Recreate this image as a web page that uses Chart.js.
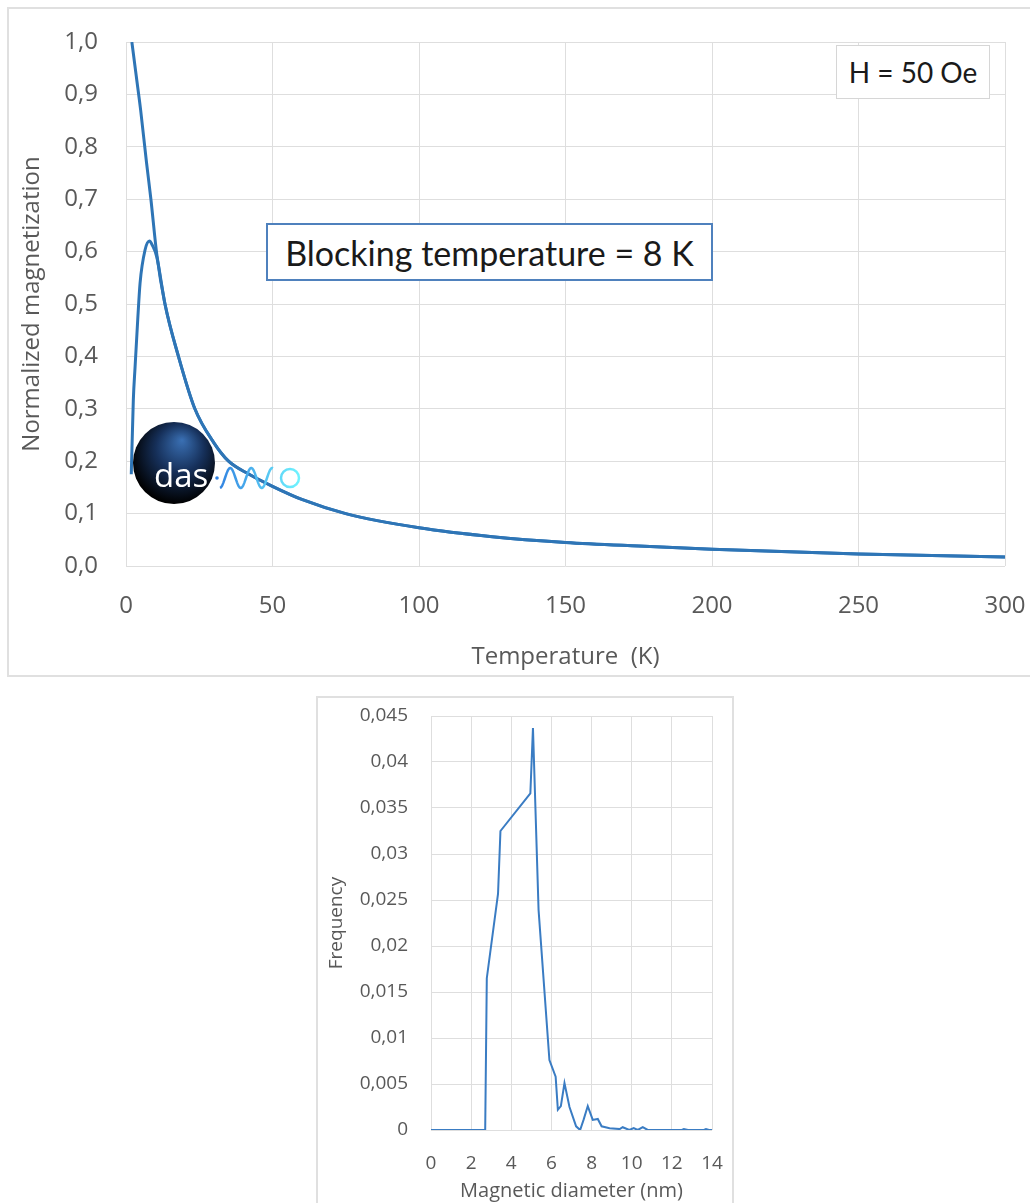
<!DOCTYPE html>
<html>
<head>
<meta charset="utf-8">
<script src="https://cdn.jsdelivr.net/npm/chart.js@4.4.1/dist/chart.umd.min.js"></script>
<style>
  html, body { margin: 0; padding: 0; background: #fff; }
  body { width: 1030px; height: 1203px; position: relative; overflow: hidden; font-family: 'Open Sans', sans-serif; }
  .frame { position: absolute; border: 2px solid #e0e0e0; box-sizing: border-box; }
  canvas { position: absolute; }
  .note { position: absolute; box-sizing: border-box; background: #fff; font-family: Lato, sans-serif; color: #1a1a1a;
          display: flex; align-items: center; justify-content: center; white-space: nowrap; }
</style>
</head>
<body>
<div class="frame" style="left:7px;top:7px;width:1040px;height:670px"></div>
<div class="frame" style="left:316px;top:696px;width:418px;height:520px"></div>
<canvas id="magChart" width="1022" height="668" style="left:8px;top:8px"></canvas>
<canvas id="sizeChart" width="416" height="506" style="left:317px;top:697px"></canvas>
<div class="note" style="left:836px;top:45px;width:154px;height:54px;border:1.5px solid #d6d6d6;font-size:28px">H = 50 Oe</div>
<div class="note" style="left:266px;top:223px;width:447px;height:58px;border:2px solid #4f81bd;font-size:34px">Blocking temperature = 8 K</div>

<script>
// Magnetization vs temperature (ZFC / FC)
const fcLowTemp = [2, 3.5, 5, 7, 8.5, 10.5];
const fcLowMag = [1.0, 0.935, 0.87, 0.77, 0.70, 0.595];
const zfcLowTemp = [1.8, 2.5, 3.1, 4.0, 4.8, 6.5, 8, 9, 10.5];
const zfcLowMag = [0.175, 0.317, 0.38, 0.47, 0.54, 0.603, 0.62, 0.612, 0.59];
const tailTemp = [13.3, 17.9, 23.5, 30, 35, 42, 50, 60, 75, 100, 125, 150, 175, 200, 250, 300];
const tailMag = [0.5, 0.4, 0.3, 0.235, 0.2, 0.175, 0.152, 0.127, 0.1, 0.073, 0.056, 0.045, 0.038, 0.032, 0.023, 0.017];
const tempTicks = [0, 50, 100, 150, 200, 250, 300];
const magTicks = [0, 0.1, 0.2, 0.3, 0.4, 0.5, 0.6, 0.7, 0.8, 0.9, 1.0];

// Size distribution
const diamNm = [0, 1, 2, 2.7, 2.78, 3.34, 3.46, 4.95, 5.08, 5.36, 5.9, 6.21, 6.32, 6.47, 6.65, 6.9, 7.23, 7.43, 7.6, 7.81,
                8.06, 8.31, 8.5, 8.9, 9.4, 9.55, 9.88, 10.1, 10.3, 10.55, 10.8, 12.5, 12.6, 12.8, 13.6, 13.7, 13.85, 14];
const freq = [0, 0, 0, 0, 0.0165, 0.0257, 0.0325, 0.0366, 0.0437, 0.0239, 0.0076, 0.0058, 0.0022, 0.0026, 0.0051, 0.0025,
              0.0004, 0, 0.0011, 0.0026, 0.0011, 0.0012, 0.0004, 0.0002, 0.0001, 0.0003, 0, 0.0002, 0, 0.0003, 0, 0, 0.0001,
              0, 0, 0.0001, 0, 0];
const diamTicks = [0, 2, 4, 6, 8, 10, 12, 14];
const freqTicks = [0, 0.005, 0.01, 0.015, 0.02, 0.025, 0.03, 0.035, 0.04, 0.045];

const toPoints = (xs, ys) => xs.map((x, i) => ({ x: x, y: ys[i] }));
const comma = v => String(parseFloat(v.toFixed(3))).replace('.', ',');

const gridColor = '#dedede';
const textColor = '#595959';

// fixed axis size, and no extra label padding so the plot area sits where layout.padding says
function fixSize(prop, size) {
    return s => {
        s[prop] = size;
        s.paddingLeft = s.paddingRight = s.paddingTop = s.paddingBottom = 0;
    };
}

// das-nano logo drawn over the curves
const logoPlugin = {
    id: 'logo',
    afterDatasetsDraw(chart) {
        const ctx = chart.ctx;
        ctx.save();
        const g = ctx.createRadialGradient(174, 432, 0, 170, 448, 48);
        g.addColorStop(0, '#3a70b4');
        g.addColorStop(0.5, '#16305a');
        g.addColorStop(1, '#000');
        ctx.fillStyle = g;
        ctx.beginPath();
        ctx.arc(166, 455, 41, 0, Math.PI * 2);
        ctx.fill();

        ctx.fillStyle = '#fff';
        ctx.font = "33px 'Open Sans'";
        ctx.textBaseline = 'alphabetic';
        ctx.fillText('das', 146, 479);

        const wg = ctx.createLinearGradient(208, 0, 292, 0);
        wg.addColorStop(0, '#2f7fe0');
        wg.addColorStop(1, '#70f4ff');
        ctx.fillStyle = wg;
        ctx.beginPath();
        ctx.arc(209, 470, 1.8, 0, Math.PI * 2);
        ctx.fill();

        ctx.strokeStyle = wg;
        ctx.lineWidth = 2.5;
        ctx.beginPath();
        for (let x = 212; x <= 265; x += 0.5) {
            const y = 470 - 10 * Math.sin(2 * Math.PI * (x - 217) / 21);
            if (x === 212) ctx.moveTo(x, y); else ctx.lineTo(x, y);
        }
        ctx.stroke();
        ctx.beginPath();
        ctx.arc(282, 470, 9, 0, Math.PI * 2);
        ctx.stroke();
        ctx.restore();
    }
};

new Chart(document.getElementById('magChart'), {
    type: 'line',
    data: {
        datasets: [
            {
                label: 'ZFC',
                data: toPoints(zfcLowTemp.concat(tailTemp), zfcLowMag.concat(tailMag)),
                borderColor: '#2e75b6',
                borderWidth: 3,
                pointRadius: 0,
                cubicInterpolationMode: 'monotone'
            },
            {
                label: 'FC',
                data: toPoints(fcLowTemp.concat(tailTemp), fcLowMag.concat(tailMag)),
                borderColor: '#2e75b6',
                borderWidth: 3,
                pointRadius: 0,
                cubicInterpolationMode: 'monotone'
            }
        ]
    },
    options: {
        responsive: false,
        animation: false,
        devicePixelRatio: 1,
        layout: { padding: { left: 0, right: 25, top: 34, bottom: 0 } },
        plugins: { legend: { display: false }, tooltip: { enabled: false } },
        scales: {
            x: {
                type: 'linear', min: 0, max: 300,
                afterBuildTicks: s => { s.ticks = tempTicks.map(v => ({ value: v })); },
                afterFit: fixSize('height', 110),
                grid: { color: gridColor, drawTicks: false },
                border: { display: false },
                ticks: { color: textColor, padding: 26, font: { family: 'Open Sans', size: 24 } },
                title: { display: true, text: 'Temperature  (K)', color: textColor, padding: { top: 0, bottom: 4 },
                         font: { family: 'Open Sans', size: 24 } }
            },
            y: {
                min: 0, max: 1,
                afterBuildTicks: s => { s.ticks = magTicks.map(v => ({ value: v })); },
                afterFit: fixSize('width', 118),
                grid: { color: gridColor, drawTicks: false },
                border: { display: false },
                ticks: { color: textColor, padding: 28, font: { family: 'Open Sans', size: 24 },
                         callback: v => v.toFixed(1).replace('.', ',') },
                title: { display: true, text: 'Normalized magnetization', color: textColor, padding: { top: 10, bottom: 0 },
                         font: { family: 'Open Sans', size: 24 } }
            }
        }
    },
    plugins: [logoPlugin]
});

new Chart(document.getElementById('sizeChart'), {
    type: 'line',
    data: {
        datasets: [{
            label: 'Frequency',
            data: toPoints(diamNm, freq),
            borderColor: '#3a7cc3',
            borderWidth: 2,
            pointRadius: 0,
            tension: 0
        }]
    },
    options: {
        responsive: false,
        animation: false,
        devicePixelRatio: 1,
        layout: { padding: { left: 0, right: 21, top: 19, bottom: 0 } },
        plugins: { legend: { display: false }, tooltip: { enabled: false } },
        scales: {
            x: {
                type: 'linear', min: 0, max: 14,
                afterBuildTicks: s => { s.ticks = diamTicks.map(v => ({ value: v })); },
                afterFit: fixSize('height', 73),
                grid: { color: gridColor, drawTicks: false },
                border: { display: false },
                ticks: { color: textColor, padding: 22, font: { family: 'Open Sans', size: 19 } },
                title: { display: true, text: 'Magnetic diameter (nm)', color: textColor, padding: { top: 0, bottom: 0 },
                         font: { family: 'Open Sans', size: 20 } }
            },
            y: {
                min: 0, max: 0.045,
                afterBuildTicks: s => { s.ticks = freqTicks.map(v => ({ value: v })); },
                afterFit: fixSize('width', 114),
                grid: { color: gridColor, drawTicks: false },
                border: { display: false },
                ticks: { color: textColor, padding: 23, font: { family: 'Open Sans', size: 19 }, callback: v => comma(v) },
                title: { display: true, text: 'Frequency', color: textColor, padding: { top: 8, bottom: 0 },
                         font: { family: 'Open Sans', size: 19 } }
            }
        }
    }
});
</script>
</body>
</html>
